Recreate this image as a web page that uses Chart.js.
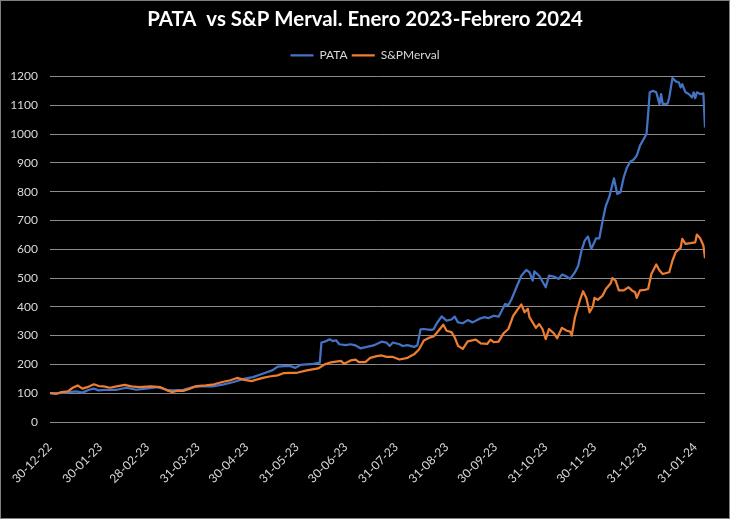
<!DOCTYPE html>
<html>
<head>
<meta charset="utf-8">
<script src="https://cdn.jsdelivr.net/npm/chart.js@4.4.1/dist/chart.umd.min.js"></script>
<style>
  html, body { margin: 0; padding: 0; background: #000; }
  #wrap { position: relative; width: 730px; height: 519px; background: #000; }
  #frame { position: absolute; left: 0; top: 0; right: 0; bottom: 0; border: 1px solid #7f7f7f; pointer-events: none; }
  canvas { display: block; }
</style>
</head>
<body>
<div id="wrap"><canvas id="c" width="730" height="519"></canvas><div id="frame"></div></div>
<script>
// Day offsets counted from 30-12-22
const pataDays = [0,6,12,16,20,24,27,30,35,41,47,53,59,66,72,76,82,88,94,100,107,113,119,125,129,133,137,140,144,148,151,154,158,162,166,167,169,172,174,176,178,182,185,188,191,195,199,204,207,209,211,215,217,220,224,226,228,230,234,236,238,241,244,247,249,251,254,257,260,264,267,270,273,276,278,280,282,284,287,290,293,295,297,298,301,305,307,310,313,315,318,320,323,325,327,329,331,333,334,336,338,340,342,344,347,349,351,353,355,357,359,361,363,365,367,368,369,371,373,375,376,377,380,381,383,385,387,388,389,391,393,395,396,397,398,400,402,403];
const pataValues = [100,100,104,106,102,112,116,110,112,112,119,112,116,121,112,110,112,121,125,124,131,139,150,156,164,172,180,192,194,194,188,198,200,202,206,276,279,287,281,284,270,267,270,266,256,261,266,279,276,264,276,270,264,267,261,266,322,323,320,322,343,367,352,356,366,346,343,354,346,358,364,361,369,366,387,410,406,427,468,508,528,520,491,523,508,468,508,505,497,512,505,497,520,543,595,630,644,601,613,638,638,699,751,780,846,792,798,850,884,904,911,925,960,980,1000,1069,1145,1150,1145,1104,1139,1104,1106,1127,1195,1183,1179,1162,1173,1145,1139,1127,1145,1125,1145,1139,1141,1023];

const mervalDays = [0,4,7,11,14,17,20,23,27,30,33,37,41,46,50,55,62,68,72,75,78,82,86,90,96,101,106,111,115,119,124,127,131,135,140,144,148,152,158,165,169,172,175,179,181,185,188,190,194,197,201,204,207,211,215,220,224,227,230,233,236,239,242,244,247,249,251,254,257,262,265,269,271,273,276,279,282,285,288,290,292,294,295,299,301,303,305,307,310,312,315,318,320,321,323,326,328,330,332,334,335,337,340,342,345,346,348,350,353,356,358,360,361,363,366,368,370,373,375,377,381,383,385,388,389,391,394,397,398,400,402,403];
const mervalValues = [100,98,104,106,119,127,116,121,131,125,124,119,124,129,124,121,124,121,110,104,108,108,116,125,127,131,139,145,153,147,142,147,153,158,162,170,171,171,179,186,200,206,209,212,202,214,217,208,208,223,229,231,226,226,217,223,235,252,283,292,297,317,338,317,312,294,265,254,280,286,273,271,286,277,279,308,323,369,393,408,381,393,364,327,340,323,288,323,308,291,327,317,314,300,364,422,454,431,381,401,431,424,439,462,482,500,491,457,457,468,457,451,431,457,459,462,514,547,526,514,520,561,590,605,636,619,621,624,651,638,613,569];

const xTickDays = [0,31,60,91,121,152,182,213,244,274,305,335,366,397];
const xTickLabels = ['30-12-22','30-01-23','28-02-23','31-03-23','30-04-23','31-05-23','30-06-23','31-07-23','31-08-23','30-09-23','31-10-23','30-11-23','31-12-23','31-01-24'];

const seriesNames = ['PATA', 'S&PMerval'];
const titleText = 'PATA  vs S&P Merval. Enero 2023-Febrero 2024';

const toPoints = (days, vals) => days.map((d, i) => ({ x: d, y: vals[i] }));

const legendExtra = {
  id: 'legendExtra',
  afterInit(chart) {
    const lg = chart.legend;
    if (!lg) return;
    const orig = lg.fit.bind(lg);
    lg.fit = function () { orig(); this.height += 5; };
  }
};

new Chart(document.getElementById('c'), {
  type: 'line',
  data: {
    datasets: [
      { label: seriesNames[0], data: toPoints(pataDays, pataValues), borderColor: '#4472C4', backgroundColor: '#4472C4', borderWidth: 2.25, pointRadius: 0, tension: 0, order: 1, borderJoinStyle: 'round' },
      { label: seriesNames[1], data: toPoints(mervalDays, mervalValues), borderColor: '#ED7D31', backgroundColor: '#ED7D31', borderWidth: 2.25, pointRadius: 0, tension: 0, order: 0, borderJoinStyle: 'round' }
    ]
  },
  plugins: [legendExtra],
  options: {
    responsive: false,
    animation: false,
    layout: { padding: { left: 0, right: 0, top: 0, bottom: 0 } },
    plugins: {
      title: {
        display: true, text: titleText, color: '#ffffff',
        font: { family: 'Lato', size: 20.4, weight: 'bold' },
        padding: { top: 7, bottom: 14 }
      },
      legend: {
        display: true, position: 'top',
        labels: {
          color: '#d9d9d9', font: { family: 'Lato', size: 12 },
          usePointStyle: true, pointStyle: 'line', pointStyleWidth: 23, boxHeight: 12, padding: 4,
          sort: (a, b) => a.datasetIndex - b.datasetIndex
        }
      },
      tooltip: { enabled: false }
    },
    scales: {
      x: {
        type: 'linear', min: 0, max: 403,
        grid: { display: false }, border: { display: false },
        afterBuildTicks: (s) => { s.ticks = xTickDays.map(v => ({ value: v })); },
        afterFit: (s) => { s.height = 97; },
        ticks: {
          autoSkip: false, maxRotation: 45, minRotation: 45, padding: 10,
          color: '#d9d9d9', font: { family: 'Lato', size: 12 },
          callback: (v) => { const i = xTickDays.indexOf(v); return i >= 0 ? xTickLabels[i] : ''; }
        }
      },
      y: {
        min: 0, max: 1200,
        grid: { color: '#8c8c8c', lineWidth: 1, drawTicks: false },
        border: { display: false },
        afterFit: (s) => { s.width = 50; },
        ticks: { stepSize: 100, padding: 12, color: '#d9d9d9', font: { family: 'Lato', size: 12 }, callback: (v) => String(v) }
      },
      yRightSpace: {
        position: 'right', display: true, min: 0, max: 1200,
        grid: { display: false }, border: { display: false },
        ticks: { display: false },
        afterFit: (s) => { s.width = 25; }
      }
    }
  }
});
</script>
</body>
</html>
